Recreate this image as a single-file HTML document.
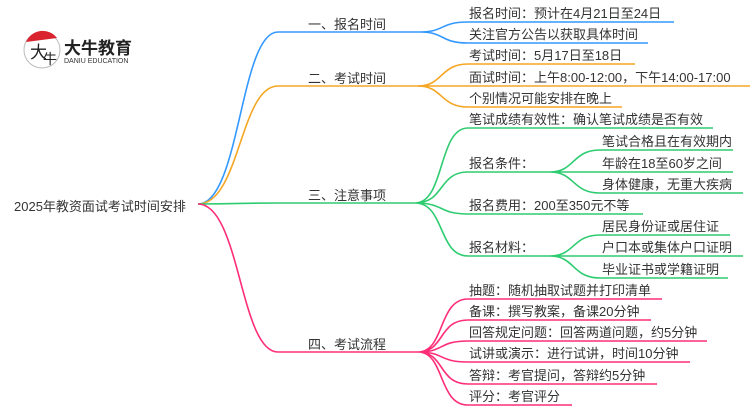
<!DOCTYPE html>
<html><head><meta charset="utf-8"><style>
html,body{margin:0;padding:0;background:#fff;width:750px;height:410px;overflow:hidden}
svg{display:block}
text{font-family:"Liberation Sans","Noto Sans CJK SC",sans-serif;font-size:13px;fill:#333}
</style></head><body>
<svg width="750" height="410" viewBox="0 0 750 410" xmlns="http://www.w3.org/2000/svg">
<g fill="none" stroke-width="1.6">
<!-- logo -->
<circle cx="42" cy="50" r="18" stroke="#bbb" stroke-width="1" fill="#fff"/>
<path d="M26 42 A18 18 0 0 1 57 38 Z" fill="#d9232e" stroke="none"/>
<!-- main branches -->
<path d="M198 204 C240 204,240 32,278 32 L420 32" stroke="#3399ff"/>
<path d="M198 204 C240 204,240 86,278 86 L420 86" stroke="#f5a623"/>
<path d="M198 204 C240 204,240 203,278 203 L415 203" stroke="#2ecc71"/>
<path d="M198 204 C240 204,240 352,278 352 L418 352" stroke="#ff2d78"/>
<!-- b1 -->
<path d="M420 32 C445 32,440 22,468 22 L674 22 M420 32 C445 32,440 43,468 43 L648 43" stroke="#3399ff"/>
<!-- b2 -->
<path d="M418 86 C443 86,440 64,468 64 L635 64 M418 86 L750 86 M418 86 C443 86,440 107,468 107 L622 107" stroke="#f5a623"/>
<!-- b3 -->
<path d="M415 203 C445 203,438 128,468 128 L713 128 M415 203 C445 203,438 172,468 172 L550 172 M415 203 C445 203,438 214,468 214 L643 214 M415 203 C445 203,438 256,468 256 L550 256" stroke="#2ecc71"/>
<path d="M550 172 C575 172,572 150,600 150 L733 150 M550 172 L733 172 M550 172 C575 172,572 193,600 193 L743 193" stroke="#2ecc71"/>
<path d="M550 256 C575 256,572 235,600 235 L730 235 M550 256 L743 256 M550 256 C575 256,572 278,600 278 L728 278" stroke="#2ecc71"/>
<!-- b4 -->
<path d="M418 352 C445 352,438 299,468 299 L662 299 M418 352 C445 352,438 320,468 320 L651 320 M418 352 C445 352,438 341,468 341 L707 341 M418 352 C445 352,438 362,468 362 L690 362 M418 352 C445 352,438 384,468 384 L657 384 M418 352 C445 352,438 405,468 405 L572 405" stroke="#ff2d78"/>
</g>
<text x="30" y="58" style="font-size:17px;fill:#222">大</text>
<text x="43" y="64" style="font-size:14px;fill:#222">牛</text>
<text x="64" y="54" style="font-size:17px;font-weight:bold;fill:#222">大牛教育</text>
<text x="64" y="63" style="font-size:7px;fill:#333">DANIU EDUCATION</text>
<text x="14" y="211">2025年教资面试考试时间安排</text>
<text x="308" y="29">一、报名时间</text>
<text x="308" y="83">二、考试时间</text>
<text x="308" y="200">三、注意事项</text>
<text x="308" y="349">四、考试流程</text>
<text x="469" y="18">报名时间：预计在4月21日至24日</text>
<text x="469" y="39">关注官方公告以获取具体时间</text>
<text x="469" y="60">考试时间：5月17日至18日</text>
<text x="469" y="82">面试时间：上午8:00-12:00，下午14:00-17:00</text>
<text x="469" y="103">个别情况可能安排在晚上</text>
<text x="469" y="124">笔试成绩有效性：确认笔试成绩是否有效</text>
<text x="469" y="168">报名条件：</text>
<text x="469" y="210">报名费用：200至350元不等</text>
<text x="469" y="252">报名材料：</text>
<text x="602" y="146">笔试合格且在有效期内</text>
<text x="602" y="168">年龄在18至60岁之间</text>
<text x="602" y="189">身体健康，无重大疾病</text>
<text x="602" y="231">居民身份证或居住证</text>
<text x="602" y="252">户口本或集体户口证明</text>
<text x="602" y="274">毕业证书或学籍证明</text>
<text x="469" y="295">抽题：随机抽取试题并打印清单</text>
<text x="469" y="316">备课：撰写教案，备课20分钟</text>
<text x="469" y="337">回答规定问题：回答两道问题，约5分钟</text>
<text x="469" y="358">试讲或演示：进行试讲，时间10分钟</text>
<text x="469" y="380">答辩：考官提问，答辩约5分钟</text>
<text x="469" y="401">评分：考官评分</text>
</svg>
</body></html>
